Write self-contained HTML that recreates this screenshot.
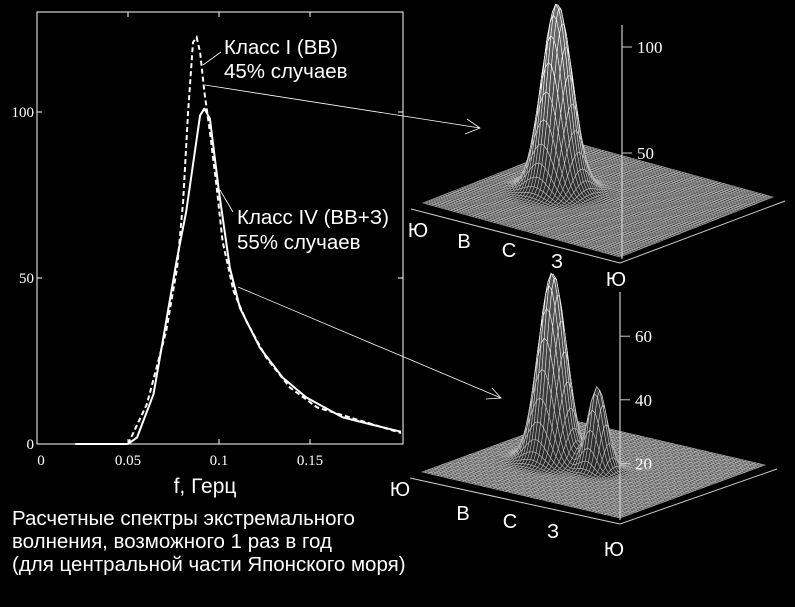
<!DOCTYPE html>
<html><head><meta charset="utf-8">
<style>
html,body{margin:0;padding:0;background:#000;}
svg{display:block;}
.sans{font-family:"Liberation Sans",Arial,sans-serif;fill:#fff;}
.serif{font-family:"Liberation Serif","Times New Roman",serif;fill:#fff;}
</style></head>
<body>
<svg id="root" width="795" height="607" viewBox="0 0 795 607">
  <rect x="0" y="0" width="795" height="607" fill="#000"/>
  <g id="surf1"></g>
  <g id="surf2"></g>
  <g id="plot2d">
    <rect x="37" y="12" width="366" height="432" fill="none" stroke="#fff" stroke-width="1"/>
    <g id="ticks"></g>
    <g id="curves"></g>
    <text class="sans" x="205" y="493" font-size="21" text-anchor="middle">f, Герц</text>
  </g>
  <g>
    <text class="sans" x="224" y="54" font-size="20.5">Класс I (ВВ)</text>
    <text class="sans" x="224" y="78" font-size="20.5">45% случаев</text>
    <text class="sans" x="237" y="224" font-size="20.5">Класс IV (ВВ+З)</text>
    <text class="sans" x="237" y="249" font-size="20.5">55% случаев</text>
    <line x1="203" y1="65" x2="221" y2="52" stroke="#fff" stroke-width="0.8"/>
    <line x1="220" y1="190" x2="233" y2="212" stroke="#fff" stroke-width="0.8"/>
    <g>
      <line x1="205" y1="85" x2="480" y2="128" stroke="#fff" stroke-width="0.8"/>
      <polyline points="467,119 480,128 465,134" fill="none" stroke="#fff" stroke-width="0.8"/>
    </g>
    <g>
      <line x1="238" y1="287" x2="501" y2="398" stroke="#fff" stroke-width="0.8"/>
      <polyline points="492,388 501,398 486,399" fill="none" stroke="#fff" stroke-width="0.8"/>
    </g>
    <text class="sans" x="12" y="525" font-size="20.5">Расчетные спектры экстремального</text>
    <text class="sans" x="12" y="548" font-size="20.5">волнения, возможного 1 раз в год</text>
    <text class="sans" x="12" y="571" font-size="20.5">(для центральной части Японского моря)</text>
  </g>
</svg>
<script>
// ---- 2D chart data ----
const xTicks = [0, 0.05, 0.1, 0.15];
const xTickLabels = ["0", "0.05", "0.1", "0.15"];
const yTicks = [0, 50, 100];
const yTickLabels = ["0", "50", "100"];
const solidF = [0.021, 0.05, 0.055, 0.064, 0.071, 0.077, 0.082, 0.0896, 0.092, 0.095, 0.1, 0.106, 0.1115, 0.1225, 0.135, 0.148, 0.168, 0.185, 0.2];
const solidV = [0, 0, 2, 15, 37, 56, 70, 99, 101, 98, 76, 53, 41, 29, 20, 14, 8, 5.7, 3.7];
const dashF = [0.05, 0.0604, 0.071, 0.077, 0.0803, 0.083, 0.0857, 0.0877, 0.0896, 0.092, 0.095, 0.0988, 0.102, 0.108, 0.115, 0.126, 0.139, 0.154, 0.172, 0.2];
const dashV = [0, 12, 34, 53, 73, 100, 121, 122.5, 118, 106, 94, 77, 61, 46, 37, 26, 17, 11, 8, 3.3];
// ---- 3D surface peak data (position u,v in 0..1, visible height, width) ----
const peaks1U = [0.30], peaks1V = [0.49], peaks1H = [88], peaks1W = [0.062];
const peaks2U = [0.30, 0.52], peaks2V = [0.49, 0.50], peaks2H = [59, 26], peaks2W = [0.058, 0.04];
const z1Ticks = [50, 100], z1Labels = ["50", "100"];
const z2Ticks = [20, 40, 60], z2Labels = ["20", "40", "60"];
const dirLabels = ["Ю", "В", "С", "З", "Ю"];

const NS = "http://www.w3.org/2000/svg";
function mk(tag, attrs, parent) {
  const e = document.createElementNS(NS, tag);
  for (const k in attrs) e.setAttribute(k, attrs[k]);
  parent.appendChild(e);
  return e;
}
const xS = f => 37 + f * 1820;
const yS = v => 444 - v * 3.32;

const tg = document.getElementById('ticks');
xTicks.forEach((t, i) => {
  const l = mk('line', {x1: xS(t), x2: xS(t), y1: 444, y2: 439, stroke: '#fff'}, tg);
  
  
  const l2 = mk('line', {x1: xS(t), x2: xS(t), y1: 12, y2: 17, stroke: '#fff'}, tg);
  
  
  const tx = mk('text', {x: xS(t) + (i === 0 ? 4 : 0), y: 465, 'text-anchor': 'middle', class: 'serif', style: 'font-size:15px'}, tg);
  tx.textContent = xTickLabels[i];
  
  
});
yTicks.forEach((t, i) => {
  const l = mk('line', {x1: 37, x2: 42, y1: yS(t), y2: yS(t), stroke: '#fff'}, tg);
  
  
  const l2 = mk('line', {x1: 398, x2: 403, y1: yS(t), y2: yS(t), stroke: '#fff'}, tg);
  
  
  const tx = mk('text', {x: 34, y: yS(t) + 5, 'text-anchor': 'end', class: 'serif', style: 'font-size:15px'}, tg);
  tx.textContent = yTickLabels[i];
  
  
});
const cg = document.getElementById('curves');
const pts = (F, V) => F.map((f, i) => xS(f).toFixed(1) + ',' + yS(V[i]).toFixed(1)).join(' ');
const s = mk('polyline', {points: pts(solidF, solidV), fill: 'none', stroke: '#fff', 'stroke-width': 2, 'stroke-linejoin': 'round'}, cg);


const d = mk('polyline', {points: pts(dashF, dashV), fill: 'none', stroke: '#fff', 'stroke-width': 2, 'stroke-dasharray': '5,3'}, cg);



// ---- 3D surfaces ----
function surface(gid, L, F, B, zScale, z0y, axisX, axisTop, PU, PV, PH, PW, zT, zL, lab, labPos) {
  const g = document.getElementById(gid);
  const N = 64;
  const proj = (u, v, h) => [L[0] + u * (F[0] - L[0]) + v * (B[0] - L[0]), L[1] + u * (F[1] - L[1]) + v * (B[1] - L[1]) - h * zScale];
  const H = (u, v) => {
    let h = 0;
    for (let k = 0; k < PU.length; k++) {
      const du = u - PU[k], dv = v - PV[k];
      h += PH[k] * Math.exp(-(du * du + dv * dv) / (2 * PW[k] * PW[k]));
    }
    return h;
  };
  const cells = [];
  for (let i = 0; i < N; i++) for (let j = 0; j < N; j++) cells.push([i, j]);
  cells.sort((a, b) => (b[1] - b[0]) - (a[1] - a[0]));
  const mesh = mk('g', {}, g);
  
  
  cells.forEach(([i, j]) => {
    const u0 = i / N, u1 = (i + 1) / N, v0 = j / N, v1 = (j + 1) / N;
    const p = [proj(u0, v0, H(u0, v0)), proj(u1, v0, H(u1, v0)), proj(u1, v1, H(u1, v1)), proj(u0, v1, H(u0, v1))];
    const hm = H((u0 + u1) / 2, (v0 + v1) / 2);
    const c = Math.round(Math.min(255, 175 + hm * 1.5));
    const f = Math.round(Math.min(120, 40 + hm * 0.8));
    mk('polygon', {points: p.map(q => q[0].toFixed(1) + ',' + q[1].toFixed(1)).join(' '), fill: 'rgb(' + f + ',' + f + ',' + f + ')', stroke: 'rgb(' + c + ',' + c + ',' + c + ')', 'stroke-width': 0.6}, mesh);
  });
  const ax = mk('line', {x1: axisX, x2: axisX, y1: axisTop, y2: F[1] + 2, stroke: '#ccc', 'stroke-width': 1.2}, g);
  
  
  zT.forEach((t, i) => {
    const y = z0y - t * zScale;
    const tl = mk('line', {x1: axisX, x2: axisX + 10, y1: y, y2: y, stroke: '#ccc'}, g);
    
    
    const tx = mk('text', {x: axisX + 15, y: y + 6, class: 'serif', style: 'font-size:17px'}, g);
    tx.textContent = zL[i];
    
    
  });
  const e1 = mk('line', {x1: L[0] - 12, y1: L[1] + 6, x2: F[0], y2: F[1] + 6, stroke: '#ccc'}, g);
  
  
  const R = [F[0] + (B[0] - L[0]), F[1] + (B[1] - L[1])];
  const e2 = mk('line', {x1: F[0], y1: F[1] + 6, x2: R[0] + 12, y2: R[1] + 4, stroke: '#ccc'}, g);
  
  
  lab.forEach((t, i) => {
    const tx = mk('text', {x: labPos[i][0], y: labPos[i][1], class: 'sans', 'font-size': 20, 'text-anchor': 'middle'}, g);
    tx.textContent = t;
    
    
  });
}
surface('surf1', [423, 203], [620, 257], [576, 143], 2.12, 259, 622, 25, peaks1U, peaks1V, peaks1H, peaks1W, z1Ticks, z1Labels, dirLabels,
  [[418, 237], [464, 248], [509, 257], [557, 268], [616, 286]]);
surface('surf2', [422, 472], [620, 518], [567, 419], 3.18, 527, 620, 292, peaks2U, peaks2V, peaks2H, peaks2W, z2Ticks, z2Labels, dirLabels,
  [[400, 496], [463, 520], [510, 528], [553, 538], [614, 556]]);
</script>
</body></html>
